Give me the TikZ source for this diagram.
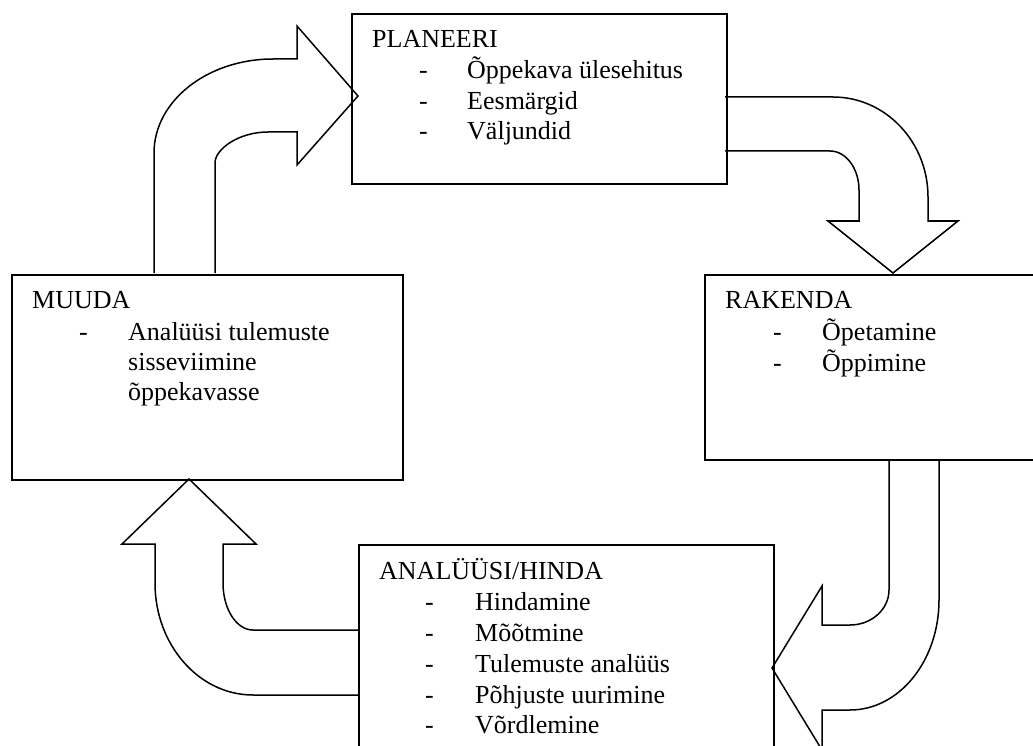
\documentclass[tikz,border=0pt]{standalone}
\usepackage{fontspec}
\setmainfont{Liberation Serif}
\begin{document}
\begin{tikzpicture}[x=1pt,y=-1pt,
  box/.style={draw,line width=1.8pt,rectangle,inner sep=0pt,anchor=north west},
  blockarrow/.style={draw,line width=1.5pt,line join=miter},
  txt/.style={anchor=base west,inner sep=0pt,font=\fontsize{26}{31}\selectfont}]
\useasboundingbox (0,0) rectangle (1033,746);
\clip (0,0) rectangle (1033,746);
% block arrows
\draw[blockarrow] (154,273) -- (154,153) .. controls (154,101.1) and (207.3,59) .. (273,59)
  -- (297,59) -- (297,26) -- (358,96) -- (297,165) -- (297,132) -- (268,132)
  .. controls (238.7,132) and (215,149.1) .. (215,163) -- (215,273);
\draw[blockarrow] (725,97) -- (833,97) .. controls (885.5,97) and (928,141.8) .. (928,197)
  -- (928,221) -- (958,221) -- (893,273) -- (828,221) -- (859,221) -- (859,190)
  .. controls (859,168.5) and (846,151) .. (830,151) -- (725,151);
\draw[blockarrow] (889,459) -- (889,590) .. controls (889,609.3) and (871.5,625) .. (850,625)
  -- (822,625) -- (822,586) -- (772,668) -- (822,750) -- (822,710) -- (850,710)
  .. controls (899.2,710) and (939,660.8) .. (939,600) -- (939,459);
\draw[blockarrow] (358,630) -- (253,630) .. controls (236.4,630) and (223,609) .. (223,583)
  -- (223,544) -- (256,544) -- (189,479) -- (122,544) -- (155,544) -- (155,583)
  .. controls (155,644.9) and (198.9,695) .. (253,695) -- (358,695);
% boxes
\node[box,minimum width=375pt,minimum height=170pt] (plan) at (351,13) {};
\node[box,minimum width=345pt,minimum height=185pt] (rak) at (704,274) {};
\node[box,minimum width=391pt,minimum height=205pt] (muu) at (11,274) {};
\node[box,minimum width=415pt,minimum height=220pt] (ana) at (358,544) {};
% texts
\node[txt] (p0) at (372,48) {PLANEERI};
\node[txt] (p1d) at (419,79) {-};
\node[txt] (p1) at (467,79) {Õppekava ülesehitus};
\node[txt] (p2d) at (419,110) {-};
\node[txt] (p2) at (467,110) {Eesmärgid};
\node[txt] (p3d) at (419,140) {-};
\node[txt] (p3) at (467,140) {Väljundid};
\node[txt] (r0) at (725,308) {RAKENDA};
\node[txt] (r1d) at (773,340) {-};
\node[txt] (r1) at (822,340) {Õpetamine};
\node[txt] (r2d) at (773,371) {-};
\node[txt] (r2) at (822,371) {Õppimine};
\node[txt] (m0) at (32,308) {MUUDA};
\node[txt] (m1d) at (79,340) {-};
\node[txt] (m1) at (128,340) {Analüüsi tulemuste};
\node[txt] (m2) at (128,370) {sisseviimine};
\node[txt] (m3) at (128,400) {õppekavasse};
\node[txt] (a0) at (379,579) {ANALÜÜSI/HINDA};
\node[txt] (a1d) at (425,610) {-};
\node[txt] (a1) at (475,610) {Hindamine};
\node[txt] (a2d) at (425,641) {-};
\node[txt] (a2) at (475,641) {Mõõtmine};
\node[txt] (a3d) at (425,672) {-};
\node[txt] (a3) at (475,672) {Tulemuste analüüs};
\node[txt] (a4d) at (425,703) {-};
\node[txt] (a4) at (475,703) {Põhjuste uurimine};
\node[txt] (a5d) at (425,733) {-};
\node[txt] (a5) at (475,733) {Võrdlemine};
\end{tikzpicture}
\end{document}
